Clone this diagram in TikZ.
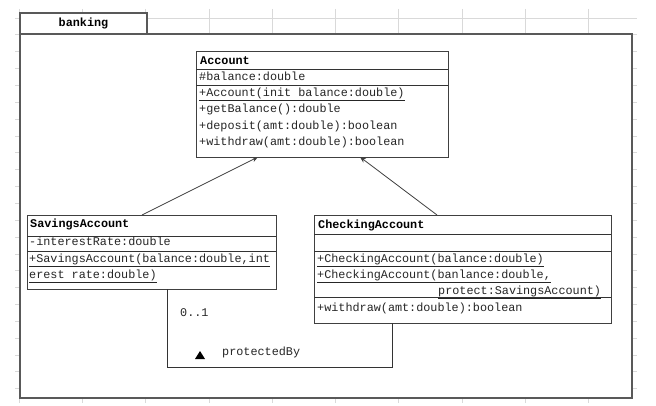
\documentclass[tikz,border=0pt]{standalone}
\usepackage{fontspec}
\setmonofont{Liberation Mono}
\usetikzlibrary{arrows.meta,calc}
\begin{document}
\begin{tikzpicture}[x=1pt,y=-1pt,
  gridline/.style={draw=black!15, line width=0.8pt},
  pkg/.style={draw=black!65, line width=1.4pt, fill=white, inner sep=0pt, outer sep=0pt},
  classbox/.style={draw=black!75, line width=0.8pt, fill=white, inner sep=0pt, outer sep=0pt},
  sepline/.style={draw=black!80, line width=0.8pt},
  txt/.style={anchor=base west, inner sep=0pt, font=\ttfamily\fontsize{11.8}{12}\selectfont, text=black!85},
  boldtxt/.style={txt, font=\ttfamily\bfseries\fontsize{11.8}{12}\selectfont, text=black},
  inh/.style={draw=black!75, line width=0.8pt, -{Stealth[length=6pt,width=5pt]}},
  assoc/.style={draw=black!80, line width=0.9pt},
]
\useasboundingbox (0,0) rectangle (656,406);
\fill[white] (0,0) rectangle (656,406);
% spreadsheet grid
\foreach \k in {0,...,9} \draw[gridline] ({19+63.3*\k},9) -- ({19+63.3*\k},403);
\foreach \k in {0,...,22} \draw[gridline] (15,{18+16.85*\k}) -- (637,{18+16.85*\k});
% package
\node[pkg, anchor=north west, minimum width=612, minimum height=364] (pkgbody) at (20,34) {};
\node[pkg, anchor=north west, minimum width=127, minimum height=21] (tab) at (20,13) {};
\node[boldtxt, anchor=center] (tabname) at ([yshift=0.5]tab.center) {banking};

% Account
\node[classbox, anchor=north west, minimum width=252, minimum height=106] (account) at (196,51) {};
\draw[sepline] (account.west |- 0,69) -- (account.east |- 0,69);
\draw[sepline] (account.west |- 0,85) -- (account.east |- 0,85);
\node[boldtxt] (accname) at (200,64.5) {Account};
\node[txt] (acc1) at (199,80.5) {\#balance:double};
\node[txt] (acc2) at (199,96.5) {\underline{+Account(init balance:double)}};
\node[txt] (acc3) at (199,113) {+getBalance():double};
\node[txt] (acc4) at (199,129.5) {+deposit(amt:double):boolean};
\node[txt] (acc5) at (199,146) {+withdraw(amt:double):boolean};

% SavingsAccount
\node[classbox, anchor=north west, minimum width=249, minimum height=74] (savings) at (27,215) {};
\draw[sepline] (savings.west |- 0,236) -- (savings.east |- 0,236);
\draw[sepline] (savings.west |- 0,251) -- (savings.east |- 0,251);
\node[boldtxt] (savname) at (30,227.5) {SavingsAccount};
\node[txt] (sav1) at (29,245) {-interestRate:double};
\node[txt] (sav2) at (29,262.5) {\underline{+SavingsAccount(balance:double,int}};
\node[txt] (sav3) at (29,278.5) {\underline{erest rate:double)}};

% CheckingAccount
\node[classbox, anchor=north west, minimum width=297, minimum height=108] (checking) at (314,215) {};
\draw[sepline] (checking.west |- 0,234) -- (checking.east |- 0,234);
\draw[sepline] (checking.west |- 0,251) -- (checking.east |- 0,251);
\draw[sepline] (checking.west |- 0,297.5) -- (checking.east |- 0,297.5);
\node[boldtxt] (chkname) at (318,228.5) {CheckingAccount};
\node[txt] (chk1) at (317,262.5) {\underline{+CheckingAccount(balance:double)}};
\node[txt] (chk2) at (317,278.5) {\underline{+CheckingAccount(banlance:double,}};
\node[txt] (chk3) at (438,294) {\underline{protect:SavingsAccount)}};
\node[txt] (chk4) at (317,311) {+withdraw(amt:double):boolean};

% generalizations
\draw[inh] ([xshift=115]savings.north west) -- ([xshift=62]account.south west);
\draw[inh] ([xshift=123]checking.north west) -- ([xshift=164]account.south west);

% association
\draw[assoc] ([xshift=140]savings.south west) -- ++(0,78) -| ([xshift=78]checking.south west);
\node[txt] (mult) at (180,316) {0..1};
\node[txt] (role) at (222,355) {protectedBy};
\fill[black] (195,359) -- (205,359) -- (200,351) -- cycle;
\end{tikzpicture}
\end{document}
